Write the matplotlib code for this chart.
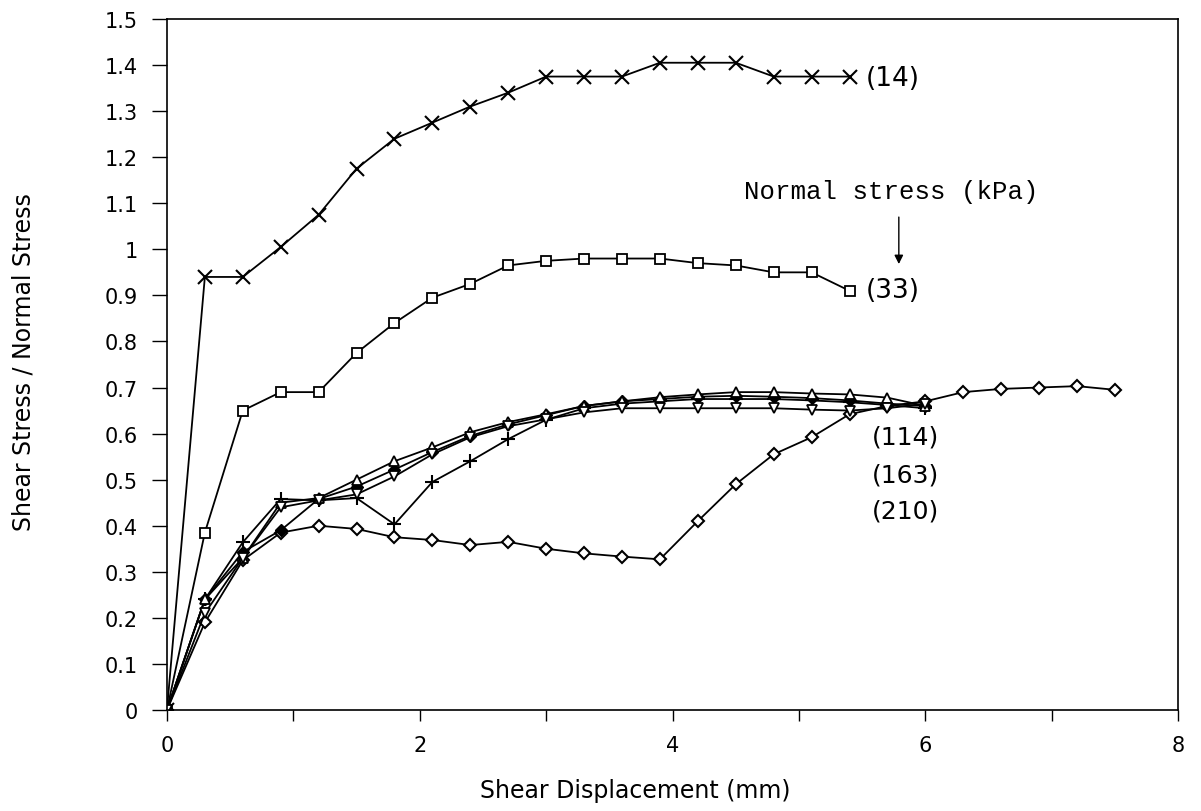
import matplotlib.pyplot as plt

# shear displacement steps (mm)
disp_14 = [0, 0.3, 0.6, 0.9, 1.2, 1.5, 1.8, 2.1, 2.4, 2.7, 3.0, 3.3, 3.6, 3.9, 4.2, 4.5, 4.8, 5.1, 5.4]
ratio_14 = [0, 0.94, 0.94, 1.005, 1.075, 1.175, 1.24, 1.275, 1.31, 1.34, 1.375, 1.375, 1.375, 1.405, 1.405, 1.405, 1.375, 1.375, 1.375]

disp_33 = [0, 0.3, 0.6, 0.9, 1.2, 1.5, 1.8, 2.1, 2.4, 2.7, 3.0, 3.3, 3.6, 3.9, 4.2, 4.5, 4.8, 5.1, 5.4]
ratio_33 = [0, 0.385, 0.65, 0.69, 0.69, 0.775, 0.84, 0.895, 0.925, 0.965, 0.975, 0.98, 0.98, 0.98, 0.97, 0.965, 0.95, 0.95, 0.91]

disp_low = [0, 0.3, 0.6, 0.9, 1.2, 1.5, 1.8, 2.1, 2.4, 2.7, 3.0, 3.3, 3.6, 3.9, 4.2, 4.5, 4.8, 5.1, 5.4, 5.7, 6.0]
ratio_up = [0, 0.24, 0.33, 0.45, 0.46, 0.50, 0.54, 0.57, 0.603, 0.625, 0.642, 0.66, 0.67, 0.679, 0.685, 0.69, 0.69, 0.687, 0.685, 0.678, 0.66]
ratio_down = [0, 0.21, 0.33, 0.44, 0.455, 0.468, 0.507, 0.555, 0.592, 0.616, 0.631, 0.646, 0.655, 0.655, 0.655, 0.655, 0.655, 0.652, 0.65, 0.655, 0.665]
ratio_plus = [0, 0.24, 0.364, 0.458, 0.455, 0.46, 0.403, 0.495, 0.54, 0.588, 0.63, 0.655, 0.665, 0.67, 0.675, 0.675, 0.675, 0.672, 0.668, 0.662, 0.655]
ratio_fill = [0, 0.24, 0.343, 0.39, 0.458, 0.485, 0.522, 0.56, 0.595, 0.62, 0.64, 0.66, 0.67, 0.675, 0.68, 0.682, 0.68, 0.677, 0.672, 0.665, 0.66]

disp_dia = [0, 0.3, 0.6, 0.9, 1.2, 1.5, 1.8, 2.1, 2.4, 2.7, 3.0, 3.3, 3.6, 3.9, 4.2, 4.5, 4.8, 5.1, 5.4, 5.7, 6.0, 6.3, 6.6, 6.9, 7.2, 7.5]
ratio_dia = [0, 0.19, 0.325, 0.385, 0.40, 0.393, 0.375, 0.369, 0.358, 0.365, 0.35, 0.34, 0.333, 0.327, 0.41, 0.49, 0.555, 0.592, 0.642, 0.66, 0.67, 0.69, 0.697, 0.70, 0.703, 0.695]

stress_labels = ['(14)', '(33)', '(114)', '(163)', '(210)']
yticks = [0, 0.1, 0.2, 0.3, 0.4, 0.5, 0.6, 0.7, 0.8, 0.9, 1, 1.1, 1.2, 1.3, 1.4, 1.5]
ytick_labels = ['0', '0.1', '0.2', '0.3', '0.4', '0.5', '0.6', '0.7', '0.8', '0.9', '1', '1.1', '1.2', '1.3', '1.4', '1.5']

fig = plt.figure(figsize=(12.01, 8.12), dpi=100)
ax = fig.add_axes([0.139, 0.1244, 0.842, 0.851])

lw = 1.3
ax.plot(disp_14, ratio_14, color='black', lw=lw, marker='x', ms=10, mew=1.5)
ax.plot(disp_33, ratio_33, color='black', lw=lw, marker='s', ms=7, mfc='white', mew=1.3)
ax.plot(disp_dia, ratio_dia, color='black', lw=lw, marker='D', ms=6, mfc='white', mew=1.5)
ax.plot(disp_low, ratio_plus, color='black', lw=lw, marker='+', ms=10, mew=1.5)
ax.plot(disp_low, ratio_fill, color='black', lw=lw, marker='D', ms=6, mfc='black')
ax.plot(disp_low, ratio_up, color='black', lw=lw, marker='^', ms=7, mfc='white', mew=1.3)
ax.plot(disp_low, ratio_down, color='black', lw=lw, marker='v', ms=7, mfc='white', mew=1.3)

ax.set_xlim(0, 8)
ax.set_ylim(0, 1.5)
ax.set_xticks([0, 1, 2, 3, 4, 5, 6, 7, 8])
ax.set_xticklabels(['0', '', '2', '', '4', '', '6', '', '8'])
ax.set_yticks(yticks)
ax.set_yticklabels(ytick_labels)
ax.tick_params(axis='x', direction='out', length=8, width=1, labelsize=15, pad=10)
ax.tick_params(axis='y', direction='out', length=11, width=1, labelsize=15, pad=10)
for s in ax.spines.values():
    s.set_linewidth(1.2)

ax.set_xlabel('Shear Displacement (mm)', fontsize=17, va='center')
ax.xaxis.set_label_coords(0.463, -0.116)
ax.set_ylabel('Shear Stress / Normal Stress', fontsize=17, va='center')
ax.yaxis.set_label_coords(-0.142, 0.505)

ax.text(5.53, 1.372, stress_labels[0], fontsize=19, va='center')
ax.text(5.53, 0.912, stress_labels[1], fontsize=19, va='center')
ax.text(5.58, 0.594, stress_labels[2], fontsize=18, va='center')
ax.text(5.58, 0.512, stress_labels[3], fontsize=18, va='center')
ax.text(5.58, 0.432, stress_labels[4], fontsize=18, va='center')

ax.text(5.73, 1.126, 'Normal stress (kPa)', fontsize=18.5, family='Liberation Mono', ha='center', va='center')
ax.annotate('', xy=(5.79, 0.962), xytext=(5.79, 1.076),
            arrowprops=dict(arrowstyle='-|>', color='black', lw=1, mutation_scale=13))

fig.savefig('out.png', dpi=100)
